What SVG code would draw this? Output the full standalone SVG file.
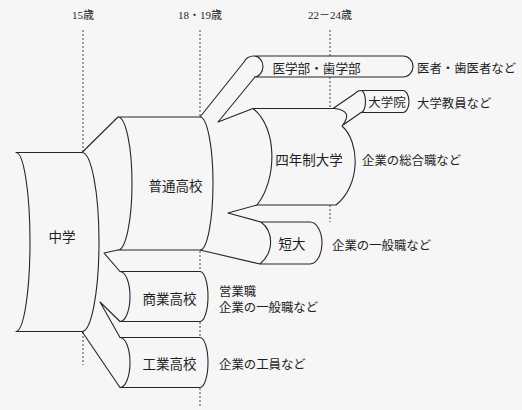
<svg xmlns="http://www.w3.org/2000/svg" width="522" height="410" viewBox="0 0 522 410">
<style>
.ln{fill:none;stroke:#262626;stroke-width:1.1;stroke-linejoin:round}
.dash{fill:none;stroke:#444;stroke-width:1;stroke-dasharray:2 2}
text{font-family:"Liberation Serif","Noto Sans CJK JP",serif;fill:#1e1e1e}
.age{font-size:11px;text-anchor:middle}
.nd{font-size:13.5px;text-anchor:middle}
.sm{font-size:12.6px;text-anchor:middle}
.out{font-size:12.4px}
</style>
<rect width="522" height="410" fill="#f6f6f6"/>
<g id="ages">
<text class="age" x="83" y="19">15歳</text>
<text class="age" x="200" y="19">18・19歳</text>
<text class="age" x="330" y="19">22－24歳</text>
<path class="dash" d="M83,30V152 M83,332V365 M200,30V117 M200,251V271 M200,322V337 M200,388V408 M330,30V56 M330,77V108 M330,205V222"/>
</g>
<g id="connectors">
<path class="ln" d="M82,152.5 L118,117"/>
<path class="ln" d="M82,331.5 L120,387.5"/>
<path class="ln" d="M118,250 L104,253 L120,271.5"/>
<path class="ln" d="M120,321.5 L100,302 L120,337.5"/>
<path class="ln" d="M200,117 L244,62 A11,11 0 0 1 254,56"/>
<path class="ln" d="M255,77 L218,122 L253,108.5"/>
<path class="ln" d="M333,108.5 L355,93.5 A8,8 0 0 1 362,90.5"/>
<path class="ln" d="M361,112.5 L343,125"/>
<path class="ln" d="M257,205 L228,213 L261,222"/>
<path class="ln" d="M200,250 L260,264"/>
</g>
<g id="node-chugaku">
<path class="ln" d="M16,152.5 L82,152.5 A17,89.5 0 0 1 82,331.5 L16,331.5 A14,89.5 0 0 0 16,152.5 Z"/>
<text class="nd" x="62" y="241.5">中学</text>
</g>
<g id="node-futsu">
<path class="ln" d="M118,117 L200,117 A13,66.5 0 0 1 200,250 L118,250 A14,66.5 0 0 0 118,117 Z"/>
<text class="nd" x="175.5" y="191">普通高校</text>
</g>
<g id="node-shogyo">
<path class="ln" d="M120,271.5 L200,271.5 A8,25 0 0 1 200,321.5 L120,321.5 A10,25 0 0 0 120,271.5 Z"/>
<text class="nd" x="169.5" y="304">商業高校</text>
</g>
<g id="node-kogyo">
<path class="ln" d="M120,337.5 L200,337.5 A8,25 0 0 1 200,387.5 L120,387.5 A10,25 0 0 0 120,337.5 Z"/>
<text class="nd" x="169.5" y="369">工業高校</text>
</g>
<g id="node-yonen">
<path class="ln" d="M253,108.5 L335,108.5 Q354,111 342,126 C360,142 361,185 336,205 L257,205 C277,180 278,128 253,108.5 Z"/>
<text class="nd" x="309" y="164.5">四年制大学</text>
</g>
<g id="node-tandai">
<path class="ln" d="M261,222 L310,222 A12,21 0 0 1 310,264 L260,264 C274,252 274,232 261,222 Z"/>
<text class="nd" x="292" y="249">短大</text>
</g>
<g id="node-igaku">
<path class="ln" d="M254,56 L403,56 A10,10.5 0 0 1 403,77 L254,77 M254,56 A9,10.5 0 0 1 254,77"/>
<text class="sm" x="316.5" y="73">医学部・歯学部</text>
</g>
<g id="node-daigakuin">
<path class="ln" d="M361,90.5 L403,90.5 A6,11 0 0 1 403,112.5 L361,112.5 M361,90.5 A4.5,11 0 0 1 361,112.5"/>
<text class="nd" x="387" y="107" style="font-size:12.5px">大学院</text>
</g>
<g id="outcomes">
<text class="out" x="417" y="73">医者・歯医者など</text>
<text class="out" x="417" y="108">大学教員など</text>
<text class="out" x="362" y="165">企業の総合職など</text>
<text class="out" x="332" y="250">企業の一般職など</text>
<text class="out" x="219" y="296">営業職</text>
<text class="out" x="219" y="312">企業の一般職など</text>
<text class="out" x="219" y="369">企業の工員など</text>
</g>
</svg>
